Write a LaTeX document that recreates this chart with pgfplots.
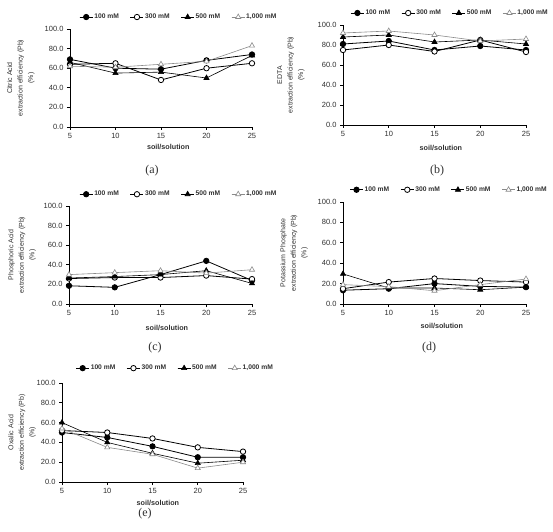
\documentclass[border=0pt]{standalone}
\usepackage{fontspec}
\setmainfont{Liberation Sans}
\newfontfamily\serifpanel{Liberation Serif}
\usepackage{pgfplots}
\pgfplotsset{compat=1.18}
\definecolor{txt}{HTML}{303030}
\definecolor{gline}{HTML}{8A8A8A}

\pgfplotsset{
  legend image code/.code={%
    \draw[#1, mark=none] (0pt,0pt) -- (13pt,0pt);
    \draw[mark repeat=2, mark phase=2, #1] plot coordinates {(0pt,0pt) (6.5pt,0pt) (13pt,0pt)};},
}
\pgfplotsset{
  s100/.style={black, line width=0.8pt, mark=*, mark size=2.7pt, mark options={solid, fill=black, draw=black}},
  s300/.style={black, line width=0.8pt, mark=*, mark size=2.7pt, mark options={solid, fill=white, draw=black}},
  s500/.style={black, line width=0.6pt, mark=triangle*, mark size=3pt, mark options={solid, fill=black, draw=black}},
  s1000/.style={gline, line width=0.6pt, mark=triangle*, mark size=3pt, mark options={solid, fill=white, draw=gline}},
  panel/.style={
    scale only axis,
    xmin=5, xmax=25, ymin=0, ymax=100,
    separate axis lines,
    axis x line*=bottom, axis y line*=left,
    x axis line style={-}, y axis line style={-},
    axis line style={black, line width=0.8pt},
    xtick={5,10,15,20,25}, ytick={0,20,...,100},
    tick align=outside, major tick length=3pt,
    tick style={black, line width=0.8pt},
    clip=false,
    /pgf/number format/assume math mode=true,
    yticklabel style={/pgf/number format/.cd, fixed, fixed zerofill, precision=1, /tikz/.cd, font=\fontsize{7.5}{9}\selectfont, text=txt},
    xticklabel style={font=\fontsize{7.5}{9}\selectfont, text=txt},
    xlabel={soil/solution},
    xlabel style={font=\fontsize{7.2}{9}\selectfont\bfseries, text=txt, anchor=center},
    ylabel style={font=\fontsize{7}{10.5}\selectfont, text=txt, align=center, anchor=center},
    legend columns=4,
    legend style={draw=none, fill=none, anchor=west, font=\fontsize{6.7}{8}\selectfont\bfseries, text=txt,
      inner sep=0pt, nodes={inner sep=1.2pt},
      /tikz/every even column/.append style={column sep=10pt}},
  }
}

\begin{document}
\begin{tikzpicture}
\useasboundingbox (0,0) rectangle (553pt,531pt);

% (a) Citric Acid
\begin{axis}[panel, at={(70pt,404pt)}, anchor=south west, width=182pt, height=98pt,
  ylabel={Citric Acid\\extraction efficiency (Pb)\\(\%)},
  ylabel style={at={(axis description cs:-0.27,0.5)}},
  xlabel style={at={(axis description cs:0.54,-0.204)}},
  legend style={at={(axis description cs:0.05,1.122)}}]
\addplot[s100] coordinates {(5,69) (10,60) (15,59) (20,68) (25,74)};
\addplot[s300] coordinates {(5,64) (10,65) (15,48) (20,60) (25,65)};
\addplot[s500] coordinates {(5,66) (10,55) (15,56) (20,50) (25,73)};
\addplot[s1000] coordinates {(5,62) (10,61) (15,64) (20,67) (25,83)};
\legend{100 mM, 300 mM, 500 mM, {1,000 mM}}
\end{axis}

% (b) EDTA
\begin{axis}[panel, at={(343pt,406pt)}, anchor=south west, width=183pt, height=100pt,
  ylabel={EDTA\\extraction efficiency (Pb)\\(\%)},
  ylabel style={at={(axis description cs:-0.284,0.5)}},
  xlabel style={at={(axis description cs:0.535,-0.23)}},
  legend style={at={(axis description cs:0.04,1.12)}}]
\addplot[s100] coordinates {(5,81) (10,84) (15,75) (20,79) (25,75)};
\addplot[s300] coordinates {(5,75) (10,80) (15,73.5) (20,85) (25,73)};
\addplot[s500] coordinates {(5,88) (10,90) (15,83) (20,85) (25,81)};
\addplot[s1000] coordinates {(5,92) (10,94) (15,90) (20,84) (25,86)};
\legend{100 mM, 300 mM, 500 mM, {1,000 mM}}
\end{axis}

% (c) Phosphoric Acid
\begin{axis}[panel, at={(69pt,227pt)}, anchor=south west, width=183pt, height=98pt,
  ylabel={Phosphoric Acid\\extraction efficiency (Pb)\\(\%)},
  ylabel style={at={(axis description cs:-0.257,0.5)}},
  xlabel style={at={(axis description cs:0.535,-0.245)}},
  legend style={at={(axis description cs:0.055,1.12)}}]
\addplot[s100] coordinates {(5,18.6) (10,17) (15,30) (20,44) (25,24)};
\addplot[s300] coordinates {(5,26) (10,27) (15,27) (20,29) (25,25.4)};
\addplot[s500] coordinates {(5,26.5) (10,28) (15,30) (20,34) (25,21)};
\addplot[s1000] coordinates {(5,30) (10,32) (15,34) (20,31.5) (25,35)};
\legend{100 mM, 300 mM, 500 mM, {1,000 mM}}
\end{axis}

% (d) Potassium Phosphate
\begin{axis}[panel, at={(343pt,227pt)}, anchor=south west, width=183pt, height=102pt,
  ylabel={Potassium Phosphate\\extraction efficiency (Pb)\\(\%)},
  ylabel style={at={(axis description cs:-0.268,0.5)}},
  xlabel style={at={(axis description cs:0.54,-0.22)}},
  legend style={at={(axis description cs:0.035,1.12)}}]
\addplot[s100] coordinates {(5,13.5) (10,15) (15,20) (20,17.3) (25,16.5)};
\addplot[s300] coordinates {(5,15) (10,21.5) (15,25) (20,23) (25,21.5)};
\addplot[s500] coordinates {(5,29.5) (10,15.7) (15,15.7) (20,14) (25,16.5)};
\addplot[s1000] coordinates {(5,19) (10,17) (15,13) (20,19) (25,24.5)};
\legend{100 mM, 300 mM, 500 mM, {1,000 mM}}
\end{axis}

% (e) Oxalic Acid
\begin{axis}[panel, at={(62pt,49pt)}, anchor=south west, width=181pt, height=99pt,
  ylabel={Oxalic Acid\\extraction efficiency (Pb)\\(\%)},
  ylabel style={at={(axis description cs:-0.22,0.5)}},
  xlabel style={at={(axis description cs:0.53,-0.21)}},
  legend style={at={(axis description cs:0.075,1.15)}}]
\addplot[s100] coordinates {(5,50) (10,45) (15,36) (20,25) (25,25)};
\addplot[s300] coordinates {(5,52) (10,50) (15,44) (20,35) (25,30.7)};
\addplot[s500] coordinates {(5,60) (10,40) (15,29) (20,19) (25,22)};
\addplot[s1000] coordinates {(5,54) (10,35) (15,28) (20,14) (25,20)};
\legend{100 mM, 300 mM, 500 mM, {1,000 mM}}
\end{axis}

\node[font=\serifpanel\fontsize{12}{14}\selectfont, text=txt] at (152pt,360pt) {(a)};
\node[font=\serifpanel\fontsize{12}{14}\selectfont, text=txt] at (437pt,360pt) {(b)};
\node[font=\serifpanel\fontsize{12}{14}\selectfont, text=txt] at (155pt,183pt) {(c)};
\node[font=\serifpanel\fontsize{12}{14}\selectfont, text=txt] at (429pt,183pt) {(d)};
\node[font=\serifpanel\fontsize{12}{14}\selectfont, text=txt] at (145pt,17pt) {(e)};
\end{tikzpicture}
\end{document}
